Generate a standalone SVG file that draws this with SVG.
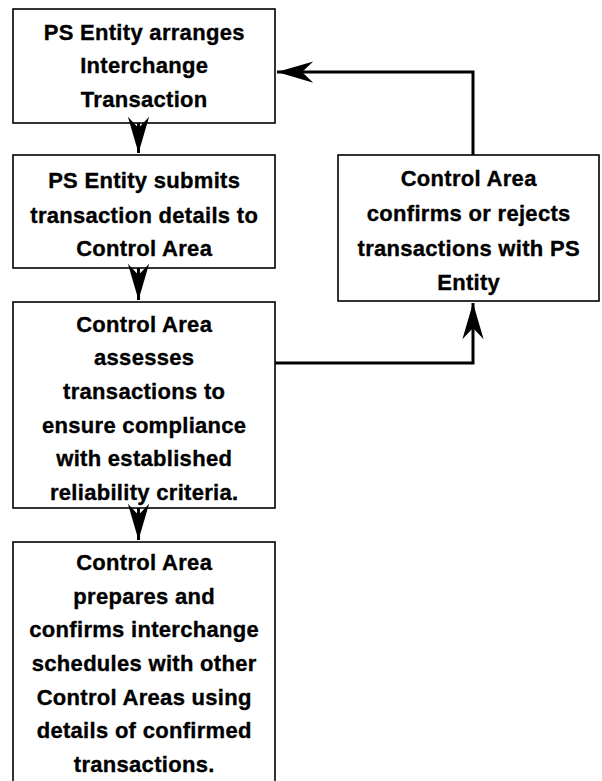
<svg xmlns="http://www.w3.org/2000/svg" width="602" height="781" viewBox="0 0 602 781">
<defs>
<style>
.box{fill:#fff;stroke:#000;stroke-width:1.6}
.t{font-family:"Liberation Sans",Arial,sans-serif;font-weight:bold;font-size:22px;letter-spacing:0.3px;text-anchor:middle;fill:#000;stroke:#000;stroke-width:0.35}
.c{fill:none;stroke:#000;stroke-width:3;stroke-linejoin:miter}
</style>
<marker id="ah" markerUnits="userSpaceOnUse" markerWidth="40" markerHeight="30" viewBox="-30 -10 32 20" refX="0" refY="0" orient="auto">
<path d="M0,0 L-29,-8.5 L-20,0 L-29,8.5 Z" fill="#000"/>
</marker>
</defs>
<g id="n1">
<rect class="box" x="13" y="9" width="262" height="114"/>
<text class="t" x="144.2" y="39.5">PS Entity arranges</text>
<text class="t" x="144.2" y="73.3">Interchange</text>
<text class="t" x="144.2" y="107.3">Transaction</text>
</g>
<g id="n2">
<rect class="box" x="13" y="155" width="262" height="113"/>
<text class="t" x="144.2" y="188">PS Entity submits</text>
<text class="t" x="144.2" y="222.5">transaction details to</text>
<text class="t" x="144.2" y="256">Control Area</text>
</g>
<g id="n3">
<rect class="box" x="13" y="302" width="262" height="206"/>
<text class="t" x="144.2" y="331.7">Control Area</text>
<text class="t" x="144.2" y="365.3">assesses</text>
<text class="t" x="144.2" y="399">transactions to</text>
<text class="t" x="144.2" y="432.7">ensure compliance</text>
<text class="t" x="144.2" y="466.3">with established</text>
<text class="t" x="144.2" y="500">reliability criteria.</text>
</g>
<g id="n4">
<rect class="box" x="13" y="542" width="262" height="245"/>
<text class="t" x="144.2" y="570">Control Area</text>
<text class="t" x="144.2" y="603.5">prepares and</text>
<text class="t" x="144.2" y="637">confirms interchange</text>
<text class="t" x="144.2" y="671">schedules with other</text>
<text class="t" x="144.2" y="704.5">Control Areas using</text>
<text class="t" x="144.2" y="738">details of confirmed</text>
<text class="t" x="144.2" y="771.5">transactions.</text>
</g>
<g id="n5">
<rect class="box" x="338" y="155" width="261" height="146"/>
<text class="t" x="468.7" y="186">Control Area</text>
<text class="t" x="468.7" y="221">confirms or rejects</text>
<text class="t" x="468.7" y="256">transactions with PS</text>
<text class="t" x="468.7" y="290">Entity</text>
</g>
<g id="connectors">
<path class="c" d="M138.5,123 V153" marker-end="url(#ah)"/>
<path class="c" d="M138.5,268 V300" marker-end="url(#ah)"/>
<path class="c" d="M138.5,508 V540" marker-end="url(#ah)"/>
<path class="c" d="M275,363 H473 V303" marker-end="url(#ah)"/>
<path class="c" d="M473,155 V72 H277" marker-end="url(#ah)"/>
</g>
</svg>
